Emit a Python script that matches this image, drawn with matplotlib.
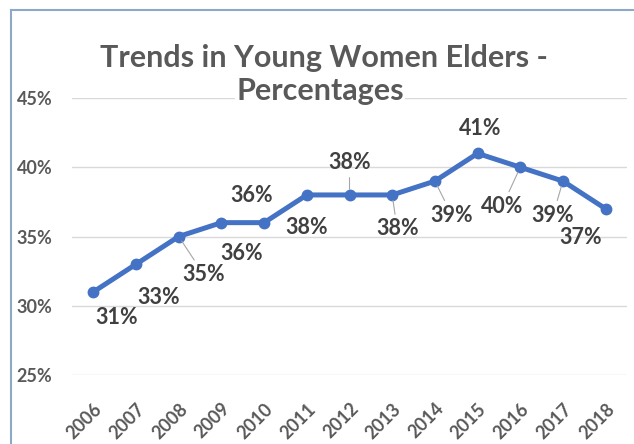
import matplotlib.pyplot as plt
from matplotlib.lines import Line2D

years = ['2006', '2007', '2008', '2009', '2010', '2011', '2012',
         '2013', '2014', '2015', '2016', '2017', '2018']
pct = [0.31, 0.33, 0.35, 0.36, 0.36, 0.38, 0.38, 0.38, 0.39, 0.41, 0.40, 0.39, 0.37]
# label offsets from the point, in pixels
lab_dx = [23, 23, 25, 20, -12, 0, 0, 5, 17, 3, -18, -10, -25]
lab_dy = [-26, -33, -38, -31, 27, -33, 32, -34, -34, 25, -39, -34, -29]
leader = [False, False, True, False, False, False, True, True, True, False, True, True, False]

plt.rcParams['font.family'] = ['Lato', 'DejaVu Sans']

dpi = 100
fig = plt.figure(figsize=(634/dpi, 444/dpi), dpi=dpi)
ax = fig.add_axes([72/634, 69/444, 555/634, 277/444])

x = range(len(years))
ax.plot(x, pct, color='#4472c4', lw=3.6, marker='o', ms=7.5, zorder=3)

for i in x:
    ap = None
    if leader[i]:
        ap = dict(arrowstyle='-', color='#a6a6a6', lw=0.8, shrinkA=1, shrinkB=4)
    ax.annotate('{:.0f}%'.format(pct[i]*100), (i, pct[i]),
                xytext=(lab_dx[i], lab_dy[i]), textcoords='offset pixels',
                ha='center', va='center', fontsize=15.5, fontweight='bold',
                color='#404040', arrowprops=ap)

ax.set_xlim(-0.5, 12.5)
ax.set_ylim(0.25, 0.45)
ax.set_yticks([0.25, 0.30, 0.35, 0.40, 0.45])
ax.set_yticklabels(['25%', '30%', '35%', '40%', '45%'])
ax.set_xticks(list(x))
ax.set_xticklabels(years, rotation=45, ha='right', rotation_mode='anchor')
ax.grid(axis='y', color='#d9d9d9', lw=1)
ax.set_axisbelow(True)
for s in ax.spines.values():
    s.set_visible(False)
ax.tick_params(length=0, labelsize=13, labelcolor='#595959')
ax.tick_params(axis='y', pad=14)
ax.tick_params(axis='x', pad=18)
for t in ax.get_xticklabels() + ax.get_yticklabels():
    t.set_fontweight('bold')

fig.text(324/634, 1 - 67/444, 'Trends in Young Women Elders -', ha='center',
         va='baseline', fontsize=22, fontweight='bold', color='#595959')
fig.text(320/634, 1 - 100/444, 'Percentages', ha='center', va='baseline',
         fontsize=22, fontweight='bold', color='#595959',
         bbox=dict(fc='white', ec='none', pad=1))

# chart border
fig.add_artist(Line2D([11/634, 11/634], [0, 1 - 10/444], color='#8ea9c8', lw=1.5))
fig.add_artist(Line2D([11/634, 1], [1 - 10/444, 1 - 10/444], color='#8ea9c8', lw=1.5))

plt.savefig('out.png', dpi=dpi)
